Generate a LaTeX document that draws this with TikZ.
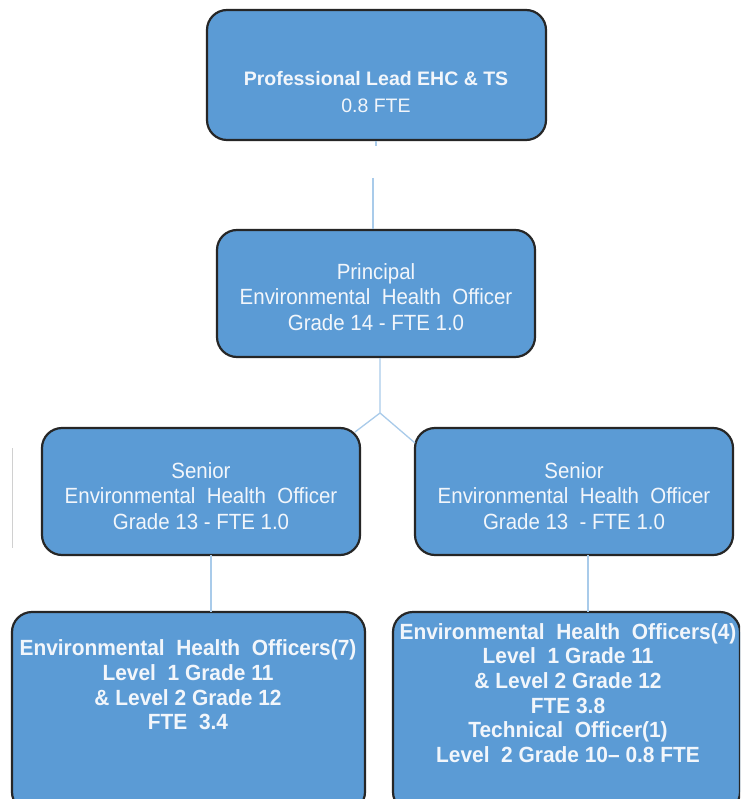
\documentclass[tikz,border=0pt]{standalone}
\usepackage{fontspec}
\setmainfont{Liberation Sans}
\newfontfamily\narrowsans[FakeStretch=0.93]{Liberation Sans}
\newfontfamily\lownarrow[FakeStretch=0.95]{Liberation Sans}
\definecolor{boxblue}{HTML}{5B9BD5}
\definecolor{linkblue}{HTML}{A9CBEA}
\definecolor{edgedark}{HTML}{262626}
\definecolor{txtw}{HTML}{F2F6FB}
\definecolor{stray}{HTML}{D0D0D0}
\begin{document}
\begin{tikzpicture}[x=1pt,y=-1pt,
  orgbox/.style={draw=edgedark, line width=2.2pt, fill=boxblue, rounded corners=20pt, inner sep=0pt, minimum width=318pt, minimum height=127pt},
  txt/.style={text=txtw, align=center, inner sep=0pt},
  leadfont/.style={font=\fontsize{19.5}{27}\selectfont},
  midfont/.style={font=\narrowsans\fontsize{22}{25.5}\selectfont},
  lowfont/.style={font=\lownarrow\bfseries\fontsize{22}{24.6}\selectfont},
  link/.style={draw=linkblue, line width=1.3pt}]
\useasboundingbox (0,0) rectangle (740,799);
\clip (0,0) rectangle (740,799);
\fill[white] (0,0) rectangle (740,799);
% stray thin line at left edge
\draw[stray, line width=1pt] (12,448) -- (12,548);
% boxes
\node[orgbox, minimum width=339pt, minimum height=130pt] (lead) at (376.5,75) {};
\node[orgbox] (princ) at (376,293.5) {};
\node[orgbox] (senL) at (201,491.5) {};
\node[orgbox] (senR) at (574,491.5) {};
\node[orgbox, minimum width=353pt, minimum height=200pt] (ehoL) at (188.5,712) {};
\node[orgbox, minimum width=347pt, minimum height=200pt] (ehoR) at (566.5,712) {};
% texts
\node[txt, leadfont] (leadT) at (376,92) {\textbf{Professional Lead EHC \& TS}\\0.8 FTE};
\node[txt, midfont] (princT) at (376,297) {Principal\\Environmental~ Health~ Officer\\Grade 14 - FTE 1.0};
\node[txt, midfont] (senLT) at (201,496) {Senior\\Environmental~ Health~ Officer\\Grade 13 - FTE 1.0};
\node[txt, midfont] (senRT) at (574,496) {Senior\\Environmental~ Health~ Officer\\Grade 13~ - FTE 1.0};
\node[txt, lowfont] (ehoLT) at (188,685) {Environmental~ Health~ Officers(7)\\Level~ 1 Grade 11\\\& Level 2 Grade 12\\FTE~ 3.4};
\node[txt, lowfont] (ehoRT) at (568,693) {Environmental~ Health~ Officers(4)\\Level~ 1 Grade 11\\\& Level 2 Grade 12\\FTE 3.8\\Technical~ Officer(1)\\Level~ 2 Grade 10– 0.8 FTE};
% connectors
\coordinate (stubEnd) at (376,146);
\coordinate (gapStart) at (373,178);
\coordinate (split) at (380,413);
\coordinate (toL) at (355,432);
\coordinate (toR) at (415,443);
\coordinate (sLb) at (211,555);
\coordinate (eLt) at (211,612);
\coordinate (sRb) at (588,555);
\coordinate (eRt) at (588,612);
\draw[link] (lead.south -| stubEnd) -- (stubEnd);
\draw[link] (gapStart) -- (princ.north -| gapStart);
\draw[link] (princ.south -| split) -- (split) -- (toL);
\draw[link] (split) -- (toR);
\draw[link] (sLb) -- (eLt);
\draw[link] (sRb) -- (eRt);
\end{tikzpicture}
\end{document}
